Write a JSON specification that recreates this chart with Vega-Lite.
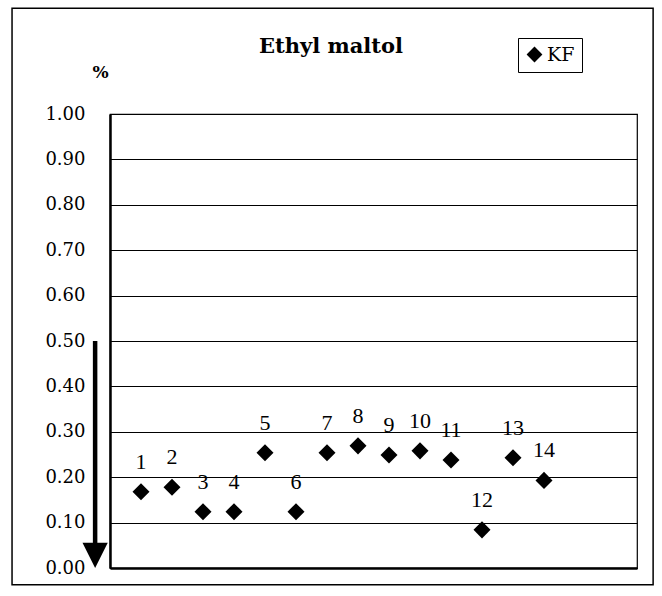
{
  "$schema": "https://vega.github.io/schema/vega-lite/v6.json",
  "width": 527,
  "height": 454,
  "autosize": {"type": "none"},
  "padding": {"left": 110, "top": 114, "right": 25, "bottom": 28},
  "background": "white",
  "datasets": {
    "points": [
      {"x": 1, "y": 0.168, "label": "1", "series": "KF"},
      {"x": 2, "y": 0.178, "label": "2", "series": "KF"},
      {"x": 3, "y": 0.124, "label": "3", "series": "KF"},
      {"x": 4, "y": 0.124, "label": "4", "series": "KF"},
      {"x": 5, "y": 0.254, "label": "5", "series": "KF"},
      {"x": 6, "y": 0.124, "label": "6", "series": "KF"},
      {"x": 7, "y": 0.254, "label": "7", "series": "KF"},
      {"x": 8, "y": 0.269, "label": "8", "series": "KF"},
      {"x": 9, "y": 0.249, "label": "9", "series": "KF"},
      {"x": 10, "y": 0.258, "label": "10", "series": "KF"},
      {"x": 11, "y": 0.238, "label": "11", "series": "KF"},
      {"x": 12, "y": 0.084, "label": "12", "series": "KF"},
      {"x": 13, "y": 0.243, "label": "13", "series": "KF"},
      {"x": 14, "y": 0.193, "label": "14", "series": "KF"}
    ],
    "frame": [{"x": -3.16, "x2": 17.52, "y": -0.037, "y2": 1.233}],
    "arrow": [{"x": -0.48, "y": 0.5, "y2": 0.05}],
    "arrowhead": [{"x": -0.48, "y": 0.028}],
    "titles": [{"x": 7.13, "y": 1.134, "text": "Ethyl maltol"}]
  },
  "encoding": {
    "x": {
      "field": "x",
      "type": "quantitative",
      "scale": {"domain": [0, 17], "nice": false, "zero": false},
      "axis": {"title": null, "labels": false, "ticks": false, "grid": false, "domain": true, "domainColor": "black", "domainWidth": 2.5}
    },
    "y": {
      "field": "y",
      "type": "quantitative",
      "scale": {"domain": [0, 1], "nice": false},
      "axis": {
        "title": "%",
        "titleAngle": 0,
        "titleX": -10,
        "titleY": -42,
        "titleAlign": "center",
        "titleBaseline": "middle",
        "titleFont": "DejaVu Serif",
        "titleFontSize": 17,
        "titleFontWeight": "bold",
        "titleColor": "black",
        "values": [0, 0.1, 0.2, 0.3, 0.4, 0.5, 0.6, 0.7, 0.8, 0.9, 1.0],
        "format": ".2f",
        "labelFont": "DejaVu Serif",
        "labelFontSize": 18,
        "labelColor": "black",
        "labelPadding": 25,
        "ticks": false,
        "grid": true,
        "gridColor": "black",
        "gridWidth": 1,
        "gridOpacity": 1,
        "domain": true,
        "domainColor": "black",
        "domainWidth": 2.5
      }
    }
  },
  "layer": [
    {
      "data": {"name": "frame"},
      "mark": {"type": "rect", "fill": null, "filled": false, "stroke": "black", "strokeWidth": 1.5, "clip": false},
      "encoding": {
        "x2": {"field": "x2"},
        "y2": {"field": "y2"}
      }
    },
    {
      "data": {"name": "titles"},
      "mark": {"type": "text", "font": "DejaVu Serif", "fontSize": 21, "fontWeight": "bold", "color": "black", "align": "center", "baseline": "alphabetic", "clip": false},
      "encoding": {
        "text": {"field": "text", "type": "nominal"}
      }
    },
    {
      "data": {"name": "arrow"},
      "mark": {"type": "rule", "color": "black", "strokeWidth": 4.5, "clip": false},
      "encoding": {
        "y2": {"field": "y2"}
      }
    },
    {
      "data": {"name": "arrowhead"},
      "mark": {"type": "point", "shape": "M-1,-1L1,-1L0,1Z", "filled": true, "fill": "black", "stroke": null, "size": 640, "opacity": 1, "clip": false},
      "encoding": {}
    },
    {
      "data": {"name": "points"},
      "mark": {"type": "point", "filled": true, "size": 290, "opacity": 1},
      "encoding": {
        "color": {
          "field": "series",
          "type": "nominal",
          "scale": {"range": ["black"]},
          "legend": {
            "title": null,
            "orient": "none",
            "legendX": 408,
            "legendY": -76,
            "strokeColor": "black",
            "fillColor": "white",
            "padding": 7,
            "labelFont": "DejaVu Serif",
            "labelFontSize": 19,
            "labelColor": "black",
            "symbolSize": 250,
            "labelOffset": 3
          }
        },
        "shape": {
          "field": "series",
          "type": "nominal",
          "scale": {"range": ["diamond"]}
        }
      }
    },
    {
      "data": {"name": "points"},
      "mark": {"type": "text", "dy": -30, "baseline": "middle", "align": "center", "font": "Liberation Serif", "fontSize": 22, "color": "black"},
      "encoding": {
        "text": {"field": "label", "type": "nominal"}
      }
    }
  ],
  "config": {
    "view": {"stroke": "black", "strokeWidth": 1.2}
  }
}
